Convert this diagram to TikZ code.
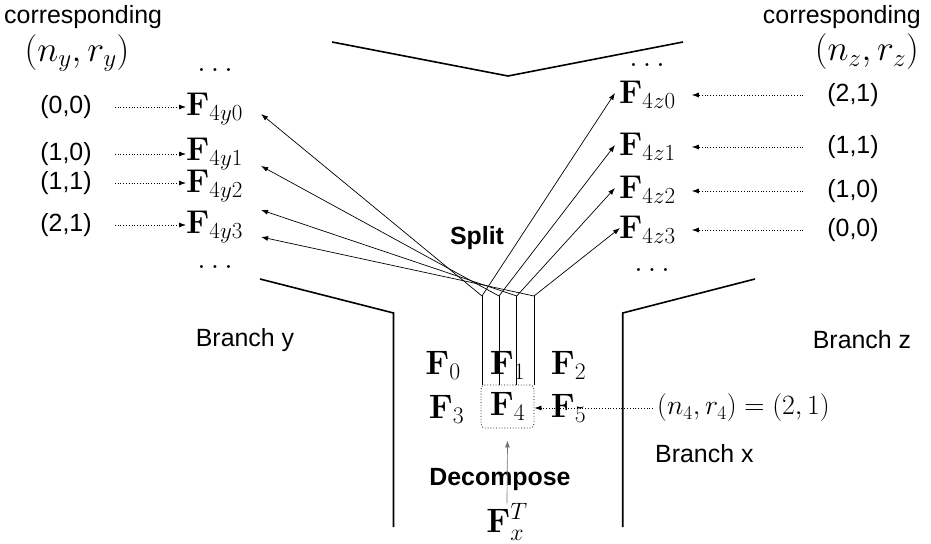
\RequirePackage{fix-cm}
\documentclass[tikz,border=0pt]{standalone}
\usepackage[no-math]{fontspec}
\setmainfont{Liberation Sans}
\usetikzlibrary{arrows.meta}
\begin{document}
\begin{tikzpicture}[x=1bp,y=-1bp,
  txt/.style={font=\fontsize{25}{29}\selectfont, inner sep=0pt},
  boldtxt/.style={font=\fontsize{25}{29}\selectfont\bfseries, inner sep=0pt},
  hdr/.style={font=\fontsize{36}{40}\selectfont, inner sep=0pt},
  fsub/.style={font=\fontsize{33}{37}\selectfont, inner sep=0pt},
  fbig/.style={font=\fontsize{34}{38}\selectfont, inner sep=0pt},
  dotsty/.style={font=\fontsize{31}{35}\selectfont, inner sep=0pt},
  outline/.style={line width=1.6bp},
  arr/.style={line width=0.7bp, -{Latex[length=7bp,width=5bp]}},
  dotarr/.style={line width=0.8bp, dotted, -{Latex[length=7bp,width=5bp]}},
  ]
\useasboundingbox (0,0) rectangle (931,544);

% outlines
\draw[outline] (332,42) -- (508,76) -- (683,42);
\draw[outline] (260,279) -- (393.5,313) -- (393.5,527);
\draw[outline] (755,279) -- (622.7,313) -- (622.7,527);

% headers
\node[txt, anchor=west] (cy) at (4,17) {corresponding};
\node[hdr] (hy) at (77,53) {$(n_y,r_y)$};
\node[txt, anchor=east] (cz) at (921,17) {corresponding};
\node[hdr, anchor=east] (hz) at (919,52) {$(n_z,r_z)$};

% dots
\node[dotsty] (dy0) at (215,70) {$\ldots$};
\node[dotsty] (dy1) at (215,267) {$\ldots$};
\node[dotsty] (dz0) at (647,65) {$\ldots$};
\node[dotsty] (dz1) at (652,270) {$\ldots$};

% left labels and F_4y
\node[txt] (ly0) at (66,107) {(0,0)};
\node[txt] (ly1) at (66,154) {(1,0)};
\node[txt] (ly2) at (66,183) {(1,1)};
\node[txt] (ly3) at (66,225) {(2,1)};
\node[fsub, anchor=west] (F4y0) at (186,109) {$\mathbf{F}_{4y0}$};
\node[fsub, anchor=west] (F4y1) at (186,154) {$\mathbf{F}_{4y1}$};
\node[fsub, anchor=west] (F4y2) at (186,186) {$\mathbf{F}_{4y2}$};
\node[fsub, anchor=west] (F4y3) at (186,227) {$\mathbf{F}_{4y3}$};
\foreach \i in {0,1,2,3}{
  \draw[dotarr] ([xshift=23bp]ly\i.east) -- (ly\i.east -| F4y\i.west);
}

% right labels and F_4z
\node[txt] (lz0) at (853,95) {(2,1)};
\node[txt] (lz1) at (853,147) {(1,1)};
\node[txt] (lz2) at (853,191) {(1,0)};
\node[txt] (lz3) at (853,230) {(0,0)};
\node[fsub, anchor=west] (F4z0) at (619,95) {$\mathbf{F}_{4z0}$};
\node[fsub, anchor=west] (F4z1) at (619,147) {$\mathbf{F}_{4z1}$};
\node[fsub, anchor=west] (F4z2) at (619,190) {$\mathbf{F}_{4z2}$};
\node[fsub, anchor=west] (F4z3) at (619,230) {$\mathbf{F}_{4z3}$};
\foreach \i in {0,1,2,3}{
  \draw[dotarr] ([xshift=-24bp]lz\i.west) -- ([xshift=16bp]lz\i.west -| F4z\i.east);
}

% F grid
\node[fbig] (F0) at (443,365) {$\mathbf{F}_0$};
\node[fbig] (F1) at (507.5,365) {$\mathbf{F}_1$};
\node[fbig] (F2) at (568.5,365) {$\mathbf{F}_2$};
\node[fbig] (F3) at (446.5,409) {$\mathbf{F}_3$};
\node[fbig, draw, dotted, line width=0.8bp, rounded corners=4bp,
      minimum width=53bp, minimum height=43bp] (F4) at (507.5,406.5) {$\mathbf{F}_4$};
\node[fbig] (F5) at (568.5,408) {$\mathbf{F}_5$};

% split lines
\coordinate (v0) at (482,296);
\coordinate (v1) at (499,296);
\coordinate (v2) at (516.7,296);
\coordinate (v3) at (534,296);
\foreach \i in {0,1,2,3}{
  \draw[line width=0.7bp] (v\i) -- (v\i |- F4.north);
}
\draw[arr] (v0) -- ([xshift=18bp,yshift=-5bp]F4y0.east);
\draw[arr] (v1) -- ([xshift=18bp,yshift=-12bp]F4y1.east);
\draw[arr] (v2) -- ([xshift=18bp,yshift=-24bp]F4y2.east);
\draw[arr] (v3) -- ([xshift=18bp,yshift=-10bp]F4y3.east);
\draw[arr] (v0) -- ([xshift=-4bp,yshift=2bp]F4z0.west);
\draw[arr] (v1) -- ([xshift=-4bp,yshift=2bp]F4z1.west);
\draw[arr] (v2) -- ([xshift=-4bp,yshift=2bp]F4z2.west);
\draw[arr] (v3) -- ([xshift=1bp,yshift=2bp]F4z3.west);

\node[boldtxt] (split) at (477,238) {Split};

% branch labels
\node[txt] (by) at (245,340) {Branch y};
\node[txt] (bz) at (862,340) {Branch z};
\node[txt, anchor=west] (bx) at (655,454) {Branch x};

% n4 label
\node[font=\fontsize{28}{32}\selectfont, inner sep=0pt, anchor=west] (n4) at (657,408) {$(n_4,r_4)=(2,1)$};
\draw[dotarr] ([xshift=-4bp]n4.west) -- (n4.west -| F4.east);

% decompose
\node[boldtxt] (dec) at (500,480) {Decompose};
\node[fbig] (Fx) at (507,522) {$\mathbf{F}_x^T$};
\draw[arr, draw=black!55] (Fx.north) -- ([yshift=-12bp]F4.south);
\end{tikzpicture}
\end{document}
